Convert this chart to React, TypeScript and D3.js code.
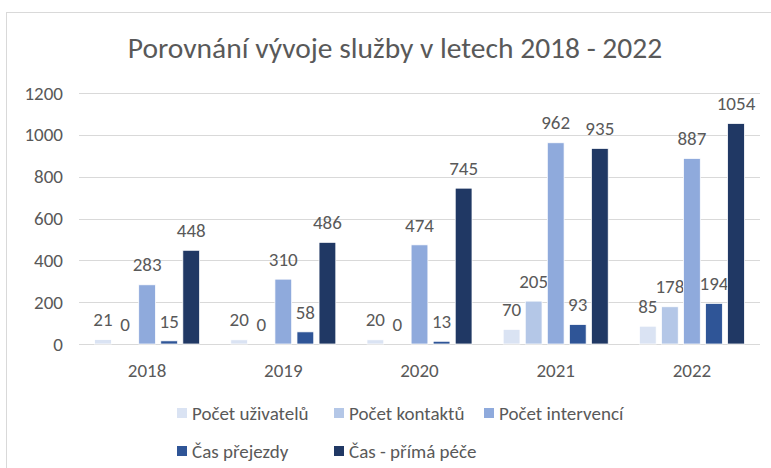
import React from 'react'
import * as d3 from 'd3';

const years = ['2018', '2019', '2020', '2021', '2022'];
const seriesNames = ['Počet uživatelů', 'Počet kontaktů', 'Počet intervencí', 'Čas přejezdy', 'Čas - přímá péče'];
const seriesColors = ['#dae3f3', '#b4c7e7', '#8faadc', '#2f5597', '#203864'];

const uzivatele = [21, 20, 20, 70, 85];
const kontakty = [0, 0, 0, 205, 178];
const intervence = [283, 310, 474, 962, 887];
const prejezdy = [15, 58, 13, 93, 194];
const primaPece = [448, 486, 745, 935, 1054];

const seriesValues = [uzivatele, kontakty, intervence, prejezdy, primaPece];
const yTicks = [0, 200, 400, 600, 800, 1000, 1200];

const font = "Calibri, Carlito, 'Liberation Sans', sans-serif";
const textColor = '#595959';

export default function App() {
    const width = 771;
    const height = 468;
    const margin = {top: 93, right: 11, left: 79, bottom: 124};
    const plotW = width - margin.left - margin.right;
    const plotH = height - margin.top - margin.bottom;

    const x0 = d3.scaleBand().domain(years).range([0, plotW]).paddingInner(0).paddingOuter(0);
    // the bar group takes ~105px of the 136px band
    const groupPad = (x0.bandwidth() - 105) / 2;
    const x1 = d3.scaleBand().domain(seriesNames).range([groupPad, x0.bandwidth() - groupPad]).paddingInner(0.24);
    const y = d3.scaleLinear().domain([0, 1200]).range([plotH, 0]);

    // legend layout
    const legendRows = [
        [{i: 0, x: 177}, {i: 1, x: 334}, {i: 2, x: 484}],
        [{i: 3, x: 177}, {i: 4, x: 334}],
    ];
    const legendY = [413, 451];

    return (
        <svg width={width} height={height}
             style={{position: 'absolute', left: 0, top: 0, background: '#fff'}}
             fontFamily={font}>
            <rect x={6.5} y={12.5} width={800} height={500} fill="#fff" stroke="#d9d9d9" />
            <text x={395} y={48} dy="0.35em" textAnchor="middle" fontSize={29.5} fill={textColor}>
                Porovnání vývoje služby v letech 2018 - 2022
            </text>
            <g transform={`translate(${margin.left},${margin.top})`}>
                {yTicks.map(t => (
                    <g key={t}>
                        <line x1={0} x2={plotW} y1={Math.round(y(t)) + 0.5} y2={Math.round(y(t)) + 0.5}
                              stroke="#d9d9d9" strokeWidth={1} />
                        <text x={-16} y={y(t)} dy="0.35em" textAnchor="end" fontSize={19} fill={textColor}>{t}</text>
                    </g>
                ))}
                {years.map((yr, yi) => (
                    <g key={yr} transform={`translate(${x0(yr)},0)`}>
                        {seriesNames.map((s, si) => {
                            const v = seriesValues[si][yi];
                            return (
                                <g key={s}>
                                    <rect x={x1(s)} y={y(v)} width={x1.bandwidth()} height={plotH - y(v)}
                                          fill={seriesColors[si]} stroke="#fff" strokeWidth={0.75} />
                                    <text x={(x1(s) || 0) + x1.bandwidth() / 2} y={y(v) - 20} dy="0.35em"
                                          textAnchor="middle" fontSize={19} fill={textColor}>{v}</text>
                                </g>
                            );
                        })}
                        <text x={x0.bandwidth() / 2} y={plotH + 26} dy="0.35em" textAnchor="middle"
                              fontSize={19} fill={textColor}>{yr}</text>
                    </g>
                ))}
            </g>
            {legendRows.map((row, ri) => row.map(item => (
                <g key={item.i} transform={`translate(${item.x},${legendY[ri]})`}>
                    <rect x={0} y={-5} width={10} height={10} fill={seriesColors[item.i]} />
                    <text x={15} y={0} dy="0.35em" fontSize={19} fill={textColor}>{seriesNames[item.i]}</text>
                </g>
            )))}
        </svg>
    );
}
